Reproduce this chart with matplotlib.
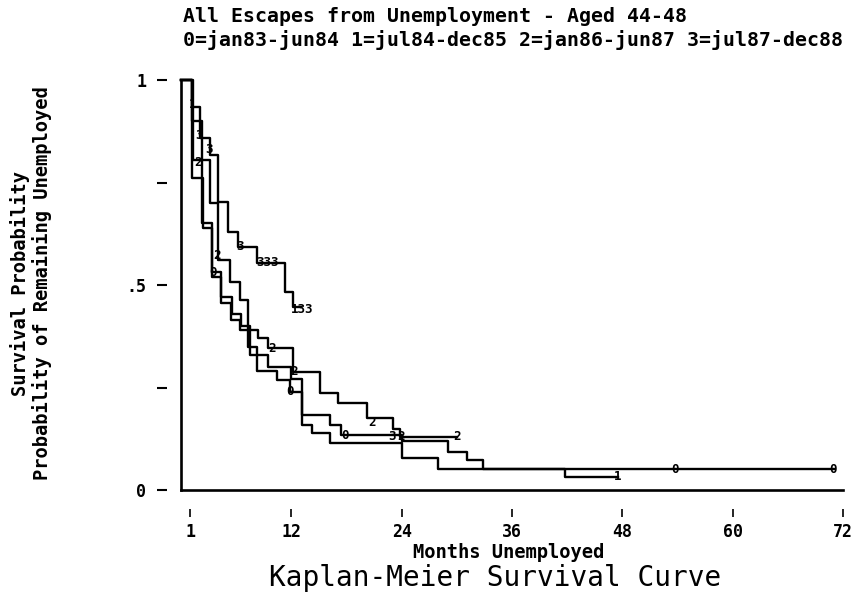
import matplotlib
matplotlib.use("Agg")
import matplotlib.pyplot as plt

# ---- data ----
title_line1 = "All Escapes from Unemployment - Aged 44-48"
title_line2 = "0=jan83-jun84 1=jul84-dec85 2=jan86-jun87 3=jul87-dec88"
x_ticks = [1, 12, 24, 36, 48, 60, 72]
y_ticks = [0, 0.25, 0.5, 0.75, 1]
y_ticklabels = ["0", "", ".5", "", "1"]

# group 0: jan83-jun84
t0 = [0, 1.3, 2.3, 3.4, 4.3, 5.4, 6.4, 7.3, 8.3, 10.4, 11.9, 13.2, 16.2, 17.4, 24.0, 29.0, 31.1, 32.9]
s0 = [1.0, 0.805, 0.651, 0.532, 0.456, 0.415, 0.39, 0.349, 0.29, 0.268, 0.24, 0.183, 0.159, 0.134, 0.12, 0.093, 0.073, 0.051]
end0 = 71.0
# group 1: jul84-dec85
t1 = [0, 1.2, 2.4, 3.4, 4.3, 5.6, 6.5, 7.5, 9.5, 12.0, 13.2, 14.2, 16.2, 24.0, 28.0, 41.8]
s1 = [1.0, 0.76, 0.64, 0.52, 0.47, 0.43, 0.40, 0.33, 0.30, 0.27, 0.159, 0.139, 0.115, 0.078, 0.051, 0.032]
end1 = 47.5
# group 2: jan86-jun87
t2 = [0, 1.2, 2.3, 3.2, 4.0, 5.35, 6.45, 7.3, 8.4, 9.5, 12.2, 15.1, 17.1, 20.2, 23.1, 23.8]
s2 = [1.0, 0.90, 0.805, 0.70, 0.561, 0.507, 0.463, 0.39, 0.371, 0.346, 0.288, 0.237, 0.212, 0.175, 0.15, 0.13]
end2 = 30.0
# group 3: jul87-dec88
t3 = [0, 1.2, 2.1, 3.2, 4.05, 5.1, 6.2, 8.3, 11.3, 12.2]
s3 = [1.0, 0.934, 0.859, 0.817, 0.702, 0.629, 0.593, 0.554, 0.483, 0.446]
end3 = 13.0

# censoring marks: (time, survival, label)
cens_t = [1.3, 2.0, 3.0, 6.4, 9.4, 13.2, 1.9, 3.9, 9.9, 12.3, 20.8, 23.0, 23.9, 30.0, 3.5, 11.9, 17.8, 53.7, 70.9, 47.5]
cens_s = [0.94, 0.865, 0.83, 0.593, 0.554, 0.44, 0.80, 0.573, 0.346, 0.288, 0.165, 0.13, 0.13, 0.13, 0.53, 0.24, 0.134, 0.051, 0.051, 0.032]
cens_lab = ["1", "3", "3", "3", "333", "133", "2", "2", "2", "2", "2", "3", "2", "2", "0", "0", "0", "0", "0", "1"]

FONT = "DejaVu Sans Mono"
W, H = 866, 597

fig = plt.figure(figsize=(W / 100, H / 100), dpi=100)
ax = fig.add_axes([181 / W, 1 - 490 / H, (843 - 181) / W, (490 - 80) / H])
ax.set_xlim(0, 72)
ax.set_ylim(0, 1)

lw = 1.7
for t, s, e in [(t0, s0, end0), (t1, s1, end1), (t2, s2, end2), (t3, s3, end3)]:
    ax.step(t + [e], s + [s[-1]], where="post", color="black", lw=lw, clip_on=False)

for x, y, lab in zip(cens_t, cens_s, cens_lab):
    ax.text(x, y, lab, fontsize=9, fontweight="bold", family=FONT,
            ha="center", va="center", color="black")

# axis lines
ax.plot([0, 72], [0, 0], color="black", lw=1.9, clip_on=False)
ax.plot([0, 0], [0, 1], color="black", lw=1.9, clip_on=False)

for sp in ["top", "right"]:
    ax.spines[sp].set_visible(False)
ax.spines["left"].set_position(("outward", 10))
ax.spines["bottom"].set_position(("outward", 14))
ax.spines["left"].set_color("none")
ax.spines["bottom"].set_color("none")

ax.set_xticks(x_ticks)
ax.set_xticklabels([str(v) for v in x_ticks])
ax.set_yticks(y_ticks)
ax.set_yticklabels(y_ticklabels)
ax.tick_params(axis="y", length=7, width=1.5, pad=8, direction="out")
ax.tick_params(axis="x", length=6, width=1.2, pad=4, direction="out")
for lbl in ax.get_xticklabels() + ax.get_yticklabels():
    lbl.set_family(FONT)
    lbl.set_fontsize(12)
    lbl.set_fontweight("bold")

fig.text(183 / W, 1 - 16 / H, title_line1, family=FONT, fontsize=14.3, fontweight="bold",
         ha="left", va="center")
fig.text(183 / W, 1 - 40 / H, title_line2, family=FONT, fontsize=14.3, fontweight="bold",
         ha="left", va="center")

fig.text(20 / W, 1 - 283 / H, "Survival Probability", family=FONT, fontsize=13.5,
         fontweight="bold", rotation=90, ha="center", va="center")
fig.text(42 / W, 1 - 283 / H, "Probability of Remaining Unemployed", family=FONT,
         fontsize=13.5, fontweight="bold", rotation=90, ha="center", va="center")

fig.text(509 / W, 1 - 552 / H, "Months Unemployed", family=FONT, fontsize=13.5,
         fontweight="bold", ha="center", va="center")
fig.text(495 / W, 1 - 578 / H, "Kaplan-Meier Survival Curve", family=FONT, fontsize=20,
         ha="center", va="center")

fig.savefig("out.png", dpi=100)
